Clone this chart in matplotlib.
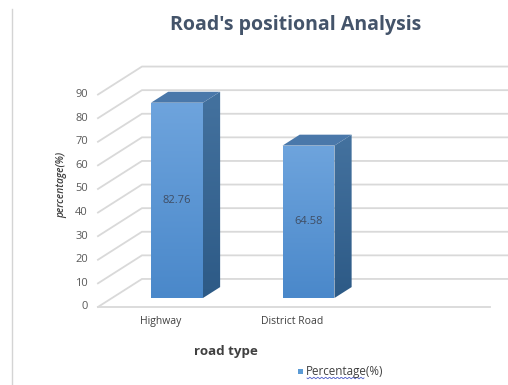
import numpy as np
import matplotlib
matplotlib.use("Agg")
import matplotlib.pyplot as plt
from matplotlib.patches import Polygon, Rectangle
from matplotlib.colors import LinearSegmentedColormap

plt.rcParams['font.family'] = ['Open Sans', 'DejaVu Sans']

road_types = ["Highway", "District Road"]
percentages = [82.76, 64.58]
y_ticks = [0, 10, 20, 30, 40, 50, 60, 70, 80, 90]

# pseudo-3d layout (category units across, percent units up)
PX_CAT = 131.5
PX_VAL = 2.36
DX = 44 / PX_CAT
DY = 28 / PX_VAL
D_FRONT, D_BACK = 0.32, 0.71
BAR_W = 0.395
XL, XR = -0.494, 2.49


def proj(x, v, d):
    return x + DX * (d - D_FRONT), v + DY * (d - D_FRONT)


fig = plt.figure(figsize=(5.08, 3.85), dpi=100)
ax = fig.add_axes([0, 0, 1, 1])
ax.set_xlim(-177 / PX_CAT, 331 / PX_CAT)
ax.set_ylim(-87 / PX_VAL, 298 / PX_VAL)
ax.axis("off")

grid_c = "#d9d9d9"
for v in y_ticks:
    pts = [proj(XL, v, 0), proj(XL, v, 1), proj(XR, v, 1)]
    ax.plot(*zip(*pts), color=grid_c, lw=1.3, zorder=1, solid_joinstyle="miter")
ax.plot(*zip(proj(XL, 0, 0), proj(XR, 0, 0)), color=grid_c, lw=1.3, zorder=1)

for v in y_ticks:
    x, y = proj(XL, v, 0)
    ax.text(x - 10 / PX_CAT, y, str(v), ha="right", va="center",
            fontsize=8, color="#595959")


def grad_fill(poly, c_top, c_bot, z):
    cmap = LinearSegmentedColormap.from_list("g", [c_bot, c_top])
    xs, ys = zip(*poly)
    img = np.linspace(0, 1, 256).reshape(-1, 1)
    im = ax.imshow(img, cmap=cmap, origin="lower", aspect="auto",
                   extent=[min(xs), max(xs), min(ys), max(ys)], zorder=z)
    patch = Polygon(poly, closed=True, facecolor="none", edgecolor="none")
    ax.add_patch(patch)
    im.set_clip_path(patch)


for i, (name, val) in enumerate(zip(road_types, percentages)):
    x0, x1 = i - BAR_W / 2, i + BAR_W / 2
    front = [proj(x0, 0, D_FRONT), proj(x1, 0, D_FRONT),
             proj(x1, val, D_FRONT), proj(x0, val, D_FRONT)]
    side = [proj(x1, 0, D_FRONT), proj(x1, 0, D_BACK),
            proj(x1, val, D_BACK), proj(x1, val, D_FRONT)]
    top = [proj(x0, val, D_FRONT), proj(x1, val, D_FRONT),
           proj(x1, val, D_BACK), proj(x0, val, D_BACK)]
    grad_fill(side, "#44729f", "#2d5a86", 3)
    grad_fill(front, "#6ea4dd", "#4a88ca", 3)
    ax.add_patch(Polygon(top, closed=True, facecolor="#4a78aa",
                         edgecolor="none", zorder=3))
    cx, cy = proj(i, val / 2, D_FRONT)
    ax.text(cx, cy, f"{val:.2f}", ha="center", va="center",
            fontsize=8, color="#3f4d63", zorder=4)
    lx, ly = proj(i - 0.02, -6.3, 0)
    ax.text(lx, ly, name, ha="center", va="center", fontsize=7.5,
            color="#404040")

# axis titles
ax.text(62, 200, "percentage(%)", transform=None, rotation=90,
        ha="center", va="center", fontsize=7.3, style="italic",
        fontweight="semibold", color="#404040")
fig.text(226 / 508, 1 - 352 / 385, "road type", ha="center", va="center",
         fontsize=9.6, fontweight="bold", color="#404040")
fig.text(296 / 508, 1 - 25 / 385, "Road's positional Analysis", ha="center",
         va="center", fontsize=14, fontweight="bold", color="#44546a")

# legend
fig.patches.append(Rectangle((298 / 508, 1 - 374 / 385), 5 / 508, 5 / 385,
                             transform=fig.transFigure, facecolor="#5b9bd5",
                             edgecolor="none"))
fig.text(306 / 508, 1 - 371 / 385, "Percentage(%)", ha="left", va="center",
         fontsize=8.4, color="#404040")
sx = np.linspace(307, 364, 60)
sy = 378 + 0.8 * np.sin((sx - 307) * 1.6)
fig.add_artist(plt.Line2D(sx / 508, 1 - sy / 385, transform=fig.transFigure,
                          color="#5060c8", lw=0.6))

# left border line
fig.add_artist(plt.Line2D([12 / 508, 12 / 508], [0, 1 - 9 / 385],
                          transform=fig.transFigure, color="#d4d4d4", lw=1))

fig.savefig("out.png", dpi=100, facecolor="white")
